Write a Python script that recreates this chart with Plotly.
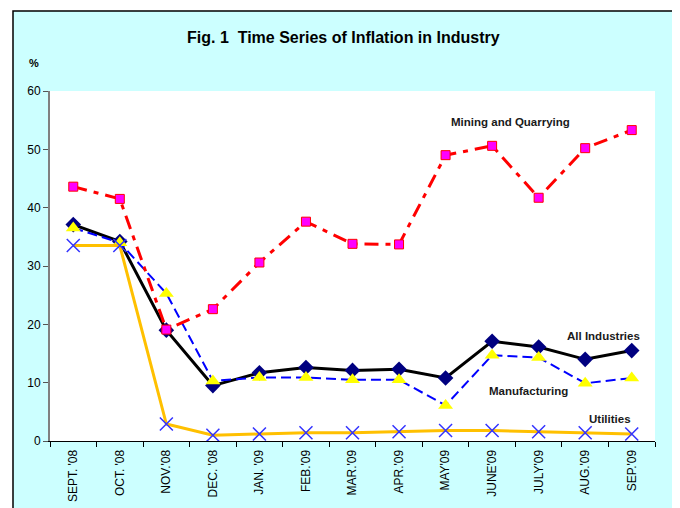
import plotly.graph_objects as go

months = ["SEPT. '08", "OCT. '08", "NOV.'08", "DEC. '08", "JAN. '09", "FEB.'09", "MAR.'09",
          "APR.'09", "MAY'09", "JUNE'09", "JULY'09", "AUG.'09", "SEP.'09"]
all_industries = [37.1, 34.2, 19.0, 9.5, 11.7, 12.6, 12.1, 12.3, 10.8, 17.1, 16.1, 14.0, 15.5]
manufacturing = [36.5, 34.0, 25.3, 10.3, 10.9, 10.9, 10.5, 10.5, 6.1, 14.7, 14.3, 9.9, 10.8]
mining = [43.6, 41.5, 19.1, 22.6, 30.6, 37.6, 33.8, 33.7, 49.0, 50.6, 41.7, 50.2, 53.3]
utilities = [33.5, 33.5, 2.9, 1.0, 1.2, 1.4, 1.4, 1.6, 1.8, 1.8, 1.6, 1.4, 1.2]

FONT = "Liberation Sans, Arial, sans-serif"

fig = go.Figure()
fig.add_trace(go.Scatter(x=months, y=all_industries, mode="lines+markers", name="All Industries",
                         line=dict(color="black", width=3),
                         marker=dict(symbol="diamond", size=12, color="#000080")))
fig.add_trace(go.Scatter(x=months, y=manufacturing, mode="lines+markers", name="Manufacturing",
                         line=dict(color="#0000FF", width=2, dash="10px,5px"),
                         marker=dict(symbol="triangle-up", size=13, color="#FFFF00")))
fig.add_trace(go.Scatter(x=months, y=mining, mode="lines+markers", name="Mining and Quarrying",
                         line=dict(color="#FF0000", width=3, dash="14px,7px,5px,7px"),
                         marker=dict(symbol="square", size=9, color="#FF00FF",
                                     line=dict(color="#FF0000", width=1))))
fig.add_trace(go.Scatter(x=months, y=utilities, mode="lines+markers", name="Utilities",
                         line=dict(color="#FFC000", width=3),
                         marker=dict(symbol="x-thin", size=13, color="#3333FF",
                                     line=dict(color="#3333FF", width=1.5))))

OFF = 8  # page body margin
W, H = 680 - OFF, 508 - OFF
L, R, T, B = 50 - OFF, 680 - 655, 91 - OFF, 508 - 441
pw, ph = W - L - R, H - T - B

def px(x):
    return (x - OFF - L) / pw

def py(y):
    return (H - B - (y - OFF)) / ph

shapes = [
    dict(type="rect", xref="paper", yref="paper", x0=px(13), x1=px(678), y0=py(520), y1=py(11),
         fillcolor="#CCFFFF", line=dict(color="black", width=1.5), layer="below"),
    dict(type="rect", xref="paper", yref="paper", x0=0, x1=1, y0=0, y1=1,
         fillcolor="white", line=dict(width=0), layer="below"),
]

lab = dict(size=11.5, color="#1a1a1a", family=FONT)

def ann(text, x, y, font):
    return dict(text=text, xref="paper", yref="paper", x=px(x), y=py(y), showarrow=False,
                xanchor="center", yanchor="middle", font=font)

annotations = [
    ann("<b>Fig. 1  Time Series of Inflation in Industry</b>", 343, 38,
        dict(size=16, color="black", family=FONT)),
    ann("<b>%</b>", 34, 63, dict(size=11, color="black", family=FONT)),
    ann("<b>Mining and Quarrying</b>", 510, 122, lab),
    ann("<b>All Industries</b>", 603, 336, lab),
    ann("<b>Manufacturing</b>", 528, 391, lab),
    ann("<b>Utilities</b>", 610, 419, lab),
]

fig.update_layout(
    width=W, height=H, margin=dict(l=L, r=R, t=T, b=B, autoexpand=False),
    paper_bgcolor="white", plot_bgcolor="white",
    showlegend=False, shapes=shapes, annotations=annotations,
    font=dict(family=FONT, size=12, color="black"),
)
fig.update_xaxes(type="category", tickangle=-90, ticks="outside", tickson="boundaries",
                 ticklen=5, tickcolor="black", showline=True, linecolor="black", linewidth=1,
                 showgrid=False, tickfont=dict(size=12, family=FONT), range=[-0.5, 12.5],
                 ticklabelstandoff=3, automargin=False)
fig.update_yaxes(range=[0, 60], dtick=10, ticks="outside", ticklen=5, tickcolor="#555555",
                 showline=True, linecolor="#808080", linewidth=2, showgrid=False, zeroline=False,
                 tickfont=dict(size=12, family=FONT), automargin=False)

fig.write_html("out.html")
